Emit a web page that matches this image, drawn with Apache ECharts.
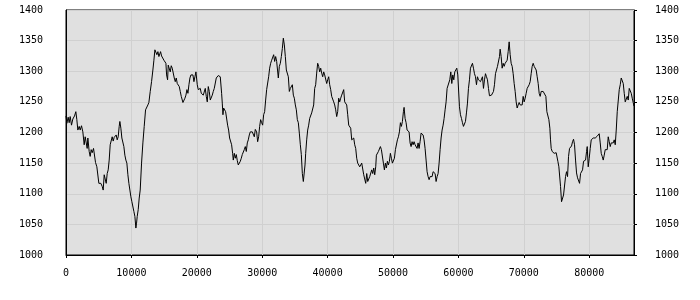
<!DOCTYPE html>
<html>
<head>
<meta charset="utf-8">
<script src="https://cdn.jsdelivr.net/npm/echarts@6/dist/echarts.min.js"></script>
<style>html,body{margin:0;padding:0;background:#fff;}#c{width:700px;height:300px;}</style>
</head>
<body>
<div id="c"></div>
<script>
const xs = [0,128,332,485,638,842,1046,1301,1505,1658,1811,2015,2168,2372,2576,2780,2933,3086,3239,3341,3545,3698,3851,4004,4208,4412,4514,4718,4922,5024,5177,5330,5534,5687,5840,5993,6146,6299,6452,6605,6758,6911,7064,7217,7370,7523,7676,7829,7982,8135,8237,8390,8543,8696,8849,9002,9155,9308,9461,9614,9767,9920,10073,10226,10379,10532,10685,10787,10889,11042,11195,11348,11552,11756,11960,12164,12368,12521,12674,12878,13082,13286,13439,13592,13745,13898,14051,14204,
14461,14614,14818,14971,15124,15277,15379,15532,15634,15787,15940,16093,16246,16399,16552,16705,16858,17011,17164,17317,17470,17623,17776,17878,18031,18184,18337,18490,18643,18796,18949,19102,19255,19408,19561,19714,19867,19969,20071,20224,20377,20530,20683,20836,20989,21142,21295,21448,21601,21754,21907,22060,22213,22366,22519,22672,22825,22978,23131,23284,23437,23590,23692,23794,23896,23998,24100,24253,24406,24559,24712,24865,25018,25171,25324,25477,25579,25732,25885,26038,26191,26344,26497,26650,26803,26956,27109,27262,27415,27568,27721,27874,28027,28180,28333,28486,28639,28792,28945,
28998,29151,29304,29457,29610,29763,29916,30069,30222,30375,30528,30681,30834,30987,31140,31293,31446,31599,31752,31905,32058,32211,32364,32466,32619,32772,32925,33078,33231,33384,33537,33690,33843,33996,34149,34302,34455,34608,34761,34914,35067,35220,35373,35526,35679,35832,35985,36138,36291,36444,36546,36648,36801,36954,37107,37260,37413,37566,37719,37872,38025,38178,38331,38484,38637,38790,38943,39096,39249,39402,39555,39708,39861,40014,40167,40320,40473,40626,40779,40932,41085,41238,41391,41544,41697,41850,42003,42156,42309,42462,42615,42768,42921,43074,43227,43380,43533,
43687,43840,43993,44146,44299,44452,44605,44758,44911,45064,45217,45370,45523,45676,45829,45982,46135,46288,46441,46594,46747,46900,47053,47206,47359,47461,47614,47767,47920,48073,48226,48379,48532,48685,48838,48991,49144,49297,49450,49603,49756,49909,50062,50215,50368,50521,50674,50827,50980,51133,51286,51439,51592,51694,51847,52000,52153,52306,52459,52612,52765,52918,53071,53224,53377,53530,53683,53836,53989,54142,54295,54448,54601,54754,54907,55060,55213,55366,55519,55672,55825,55978,56131,56284,56437,56590,56743,56896,57049,57202,57355,57508,57661,57814,57967,58120,58273,
58377,58530,58683,58836,58989,59142,59295,59448,59601,59754,59907,60060,60162,60315,60468,60621,60774,60927,61080,61233,61386,61539,61692,61845,61998,62151,62304,62457,62610,62763,62916,63069,63222,63375,63528,63681,63834,63987,64140,64293,64446,64599,64752,64905,65058,65211,65364,65517,65670,65823,65976,66129,66282,66384,66537,66690,66843,66996,67149,67302,67455,67608,67761,67914,68067,68220,68373,68526,68679,68832,68985,69138,69291,69444,69597,69750,69903,70056,70209,70362,70515,70668,70821,70974,71127,71280,71433,71586,71739,71892,72045,72198,72351,72504,72657,72810,72963,
73067,73220,73373,73526,73679,73832,73985,74087,74189,74342,74495,74648,74801,74954,75107,75209,75362,75515,75617,75770,75923,76076,76229,76382,76535,76688,76841,76994,77147,77300,77453,77606,77759,77912,78065,78218,78371,78524,78677,78830,78983,79136,79289,79442,79595,79697,79850,80003,80156,80309,80462,80615,80768,80921,81074,81227,81380,81533,81686,81839,81992,82145,82298,82451,82604,82757,82910,83063,83216,83369,83522,83675,83828,83981,84134,84287,84440,84593,84746,84899,85052,85205,85358,85511,85664,85817,85970,86123,86276,86429,86582,86684,86850];

const ys = [1227,1215,1225,1216,1226,1212,1222,1227,1234,1221,1204,1210,1204,1211,1201,1180,1193,1196,1174,1191,1169,1161,1172,1167,1174,1176,1151,1144,1144,1117,1114,1117,1112,1106,1131,1133,1117,1133,1139,1155,1180,1183,1193,1186,1192,1194,1196,1188,1193,1210,1218,1207,1191,1188,1177,1163,1155,1150,1131,1117,1106,1095,1087,1085,1071,1063,1044,1052,1063,1074,1093,1106,1150,1183,1210,1237,1240,1245,1249,1267,1283,1302,1318,1335,1337,1327,1332,1324,
1332,1325,1324,1318,1316,1313,1294,1286,1310,1308,1299,1309,1305,1307,1289,1283,1289,1280,1283,1275,1267,1259,1256,1249,1252,1256,1261,1270,1264,1278,1289,1294,1291,1294,1283,1291,1299,1296,1278,1270,1267,1272,1264,1267,1261,1261,1272,1259,1250,1275,1267,1253,1253,1261,1267,1272,1270,1289,1291,1293,1294,1291,1289,1264,1248,1229,1240,1237,1234,1232,1212,1204,1191,1188,1180,1166,1155,1166,1158,1164,1154,1147,1144,1153,1158,1164,1161,1172,1177,1169,1183,1188,1196,1201,1204,1201,1204,1193,1205,
1204,1201,1185,1193,1210,1221,1216,1212,1229,1234,1253,1270,1272,1291,1305,1313,1318,1321,1327,1316,1324,1316,1318,1289,1308,1313,1324,1337,1354,1343,1324,1302,1299,1291,1267,1272,1275,1278,1261,1256,1245,1237,1221,1216,1199,1180,1164,1133,1120,1120,1147,1166,1188,1204,1212,1223,1226,1232,1234,1245,1272,1278,1297,1313,1308,1299,1305,1297,1291,1299,1294,1291,1280,1286,1291,1278,1270,1259,1256,1250,1245,1237,1226,1234,1256,1250,1256,1261,1264,1270,1250,1253,1245,1229,1212,1210,1207,
1188,1185,1191,1180,1174,1158,1150,1147,1144,1147,1150,1153,1131,1128,1117,1133,1120,1117,1128,1131,1139,1133,1142,1131,1144,1163,1166,1169,1166,1177,1172,1169,1150,1139,1150,1142,1153,1147,1153,1166,1158,1150,1147,1158,1172,1174,1188,1193,1201,1216,1210,1218,1234,1241,1223,1216,1204,1207,1201,1183,1177,1185,1180,1185,1180,1183,1174,1183,1174,1185,1199,1196,1196,1188,1174,1155,1136,1128,1123,1128,1131,1128,1136,1139,1133,1120,1128,1133,1150,1172,1191,1204,1212,1223,1237,1250,1272,
1272,1270,1286,1299,1280,1294,1286,1299,1296,1305,1294,1291,1242,1229,1223,1216,1210,1212,1218,1232,1248,1272,1286,1305,1308,1313,1305,1296,1291,1278,1291,1286,1289,1283,1286,1291,1272,1286,1296,1291,1286,1272,1260,1260,1261,1260,1267,1278,1296,1299,1308,1310,1324,1336,1324,1305,1313,1308,1313,1310,1318,1332,1348,1327,1313,1308,1296,1280,1267,1250,1240,1245,1249,1245,1248,1245,1259,1250,1256,1264,1272,1275,1278,1283,1296,1308,1313,1308,1310,1302,1291,1280,1264,1259,1267,1270,1267,
1267,1264,1259,1234,1232,1221,1207,1188,1174,1169,1172,1166,1169,1167,1166,1153,1144,1142,1112,1087,1090,1098,1095,1128,1136,1128,1161,1174,1177,1178,1185,1189,1180,1155,1134,1126,1123,1117,1133,1133,1139,1153,1150,1155,1169,1177,1144,1158,1174,1188,1185,1191,1193,1191,1194,1194,1196,1198,1183,1166,1161,1155,1163,1172,1169,1172,1193,1185,1177,1183,1180,1183,1188,1180,1204,1234,1237,1270,1278,1289,1291,1280,1264,1250,1253,1259,1253,1272,1275,1264,1256,1253,1243];

const xMin = 0, xMax = 86850, xStep = 10000;
const yMin = 1000, yMax = 1400, yStep = 50;

const data = xs.map((x, i) => [x, ys[i]]);
const plain = v => String(v);
const font = { fontFamily: 'DejaVu Sans Mono', fontSize: 10, color: '#000', formatter: plain };

const chart = echarts.init(document.getElementById('c'), null, { renderer: 'canvas' });
chart.setOption({
  animation: false,
  grid: { left: 66, right: 66, top: 10, bottom: 45, show: true, backgroundColor: '#e0e0e0', borderColor: '#000', borderWidth: 1 },
  xAxis: {
    type: 'value', min: xMin, max: xMax, interval: xStep,
    axisLine: { show: true, lineStyle: { color: '#000' } },
    axisTick: { show: true, length: 3, lineStyle: { color: '#000' } },
    axisLabel: Object.assign({ margin: 13, showMaxLabel: false }, font),
    splitLine: { show: true, lineStyle: { color: '#d0d0d0', width: 1 } }
  },
  yAxis: [{
    type: 'value', min: yMin, max: yMax, interval: yStep, position: 'left',
    axisLine: { show: true, lineStyle: { color: '#000' } },
    axisTick: { show: false },
    axisLabel: Object.assign({ margin: 23 }, font),
    splitLine: { show: true, lineStyle: { color: '#d0d0d0', width: 1 } }
  }, {
    type: 'value', min: yMin, max: yMax, interval: yStep, position: 'right',
    axisLine: { show: true, lineStyle: { color: '#000' } },
    axisTick: { show: true, length: 3, lineStyle: { color: '#000' } },
    axisLabel: Object.assign({ margin: 21 }, font),
    splitLine: { show: false }
  }],
  series: [{
    type: 'line', data: data, showSymbol: false, symbol: 'none',
    lineStyle: { color: '#000', width: 1 }, clip: true
  }]
});
</script>
</body>
</html>
